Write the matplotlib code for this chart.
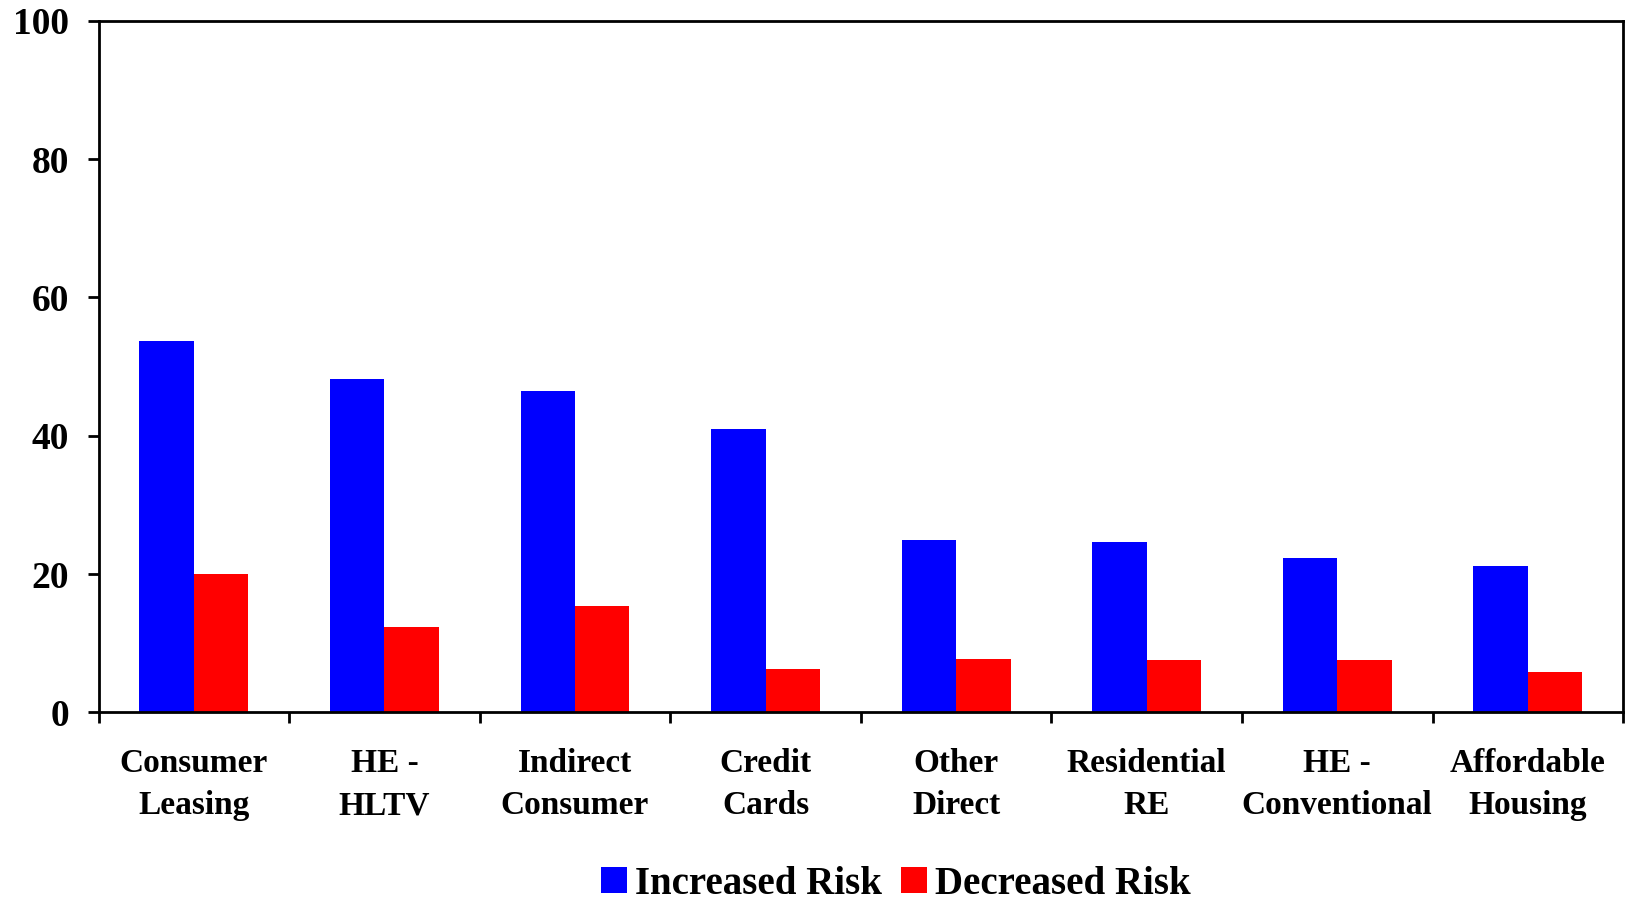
import matplotlib
matplotlib.use("Agg")
import matplotlib.pyplot as plt
import numpy as np
from matplotlib.patches import Patch

categories = ["Consumer\nLeasing", "HE -\nHLTV", "Indirect\nConsumer", "Credit\nCards",
              "Other\nDirect", "Residential\nRE", "HE -\nConventional", "Affordable\nHousing"]
increased = [53.7, 48.2, 46.4, 40.9, 24.9, 24.6, 22.3, 21.1]
decreased = [20.0, 12.3, 15.4, 6.3, 7.7, 7.6, 7.6, 5.9]
yticks = [0, 20, 40, 60, 80, 100]

plt.rcParams['font.family'] = ['Liberation Serif', 'DejaVu Serif']
plt.rcParams['font.weight'] = 'bold'

fig = plt.figure(figsize=(16.26, 9.06), dpi=100)
ax = fig.add_axes([0.0606, 0.2137, 0.9376, 0.7635])

x = np.arange(len(categories))
w = 0.2857
ax.bar(x - w / 2, increased, width=w, color='#0000FF', linewidth=0)
ax.bar(x + w / 2, decreased, width=w, color='#FF0000', linewidth=0)

ax.set_xlim(-0.5, len(categories) - 0.5)
ax.set_ylim(0, 100)
ax.set_yticks(yticks)
ax.set_yticklabels([str(v) for v in yticks], fontsize=27, fontweight='bold')
ax.tick_params(axis='y', direction='out', length=8, width=2, pad=13)

ax.set_xticks(x)
ax.set_xticklabels(categories, fontsize=24, fontweight='bold', linespacing=1.45)
ax.tick_params(axis='x', which='major', length=0, pad=26)
ax.set_xticks(np.arange(-0.5, len(categories) + 0.5, 1), minor=True)
ax.tick_params(axis='x', which='minor', direction='out', length=8, width=2)

for s in ax.spines.values():
    s.set_linewidth(2)
    s.set_color('black')

handles = [Patch(facecolor='#0000FF', edgecolor='none', label='Increased Risk'),
           Patch(facecolor='#FF0000', edgecolor='none', label='Decreased Risk')]
fig.legend(handles=handles, loc='center', bbox_to_anchor=(0.551, 0.024), ncol=2,
           frameon=False, prop={'size': 28, 'weight': 'bold'}, borderpad=0,
           handlelength=0.67, handleheight=0.67, handletextpad=0.2, columnspacing=0.5)

fig.savefig("out.png", dpi=100)
